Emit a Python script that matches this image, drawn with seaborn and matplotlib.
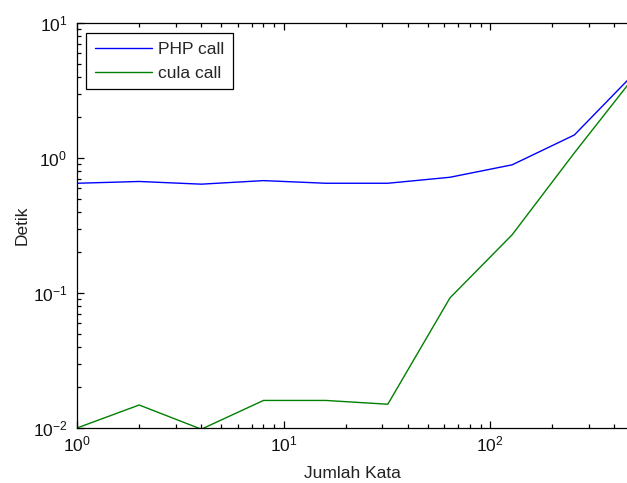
import numpy as np
import pandas as pd
import matplotlib
matplotlib.use("Agg")
import matplotlib.pyplot as plt
import seaborn as sns
from matplotlib.ticker import LogLocator, LogFormatterMathtext, NullFormatter

jumlah_kata = [1, 2, 4, 8, 16, 32, 64, 128, 256, 512]
php_call = [0.65, 0.67, 0.64, 0.68, 0.65, 0.65, 0.72, 0.89, 1.48, 4.4]
cula_call = [0.010, 0.0148, 0.0098, 0.016, 0.016, 0.015, 0.092, 0.27, 1.09, 4.2]
series_names = ["PHP call", "cula call"]

df = pd.DataFrame({
    "x": jumlah_kata * 2,
    "y": php_call + cula_call,
    "series": [series_names[0]] * len(jumlah_kata) + [series_names[1]] * len(jumlah_kata),
})

sns.set_style("white")
plt.rcParams["font.family"] = ["Liberation Sans", "DejaVu Sans"]
plt.rcParams["mathtext.fontset"] = "custom"
plt.rcParams["mathtext.rm"] = "Liberation Sans"
plt.rcParams["mathtext.it"] = "Liberation Sans"

W, H = 627, 483
left, right, top, bottom = 77, 627, 23, 428
fig = plt.figure(figsize=(W / 100, H / 100), dpi=100)
ax = fig.add_axes([left / W, (H - bottom) / H, (right - left) / W, (bottom - top) / H])

sns.lineplot(data=df, x="x", y="y", hue="series", palette=["#0000ff", "#008000"],
             linewidth=1.0, ax=ax, legend=True)

ax.set_xscale("log")
ax.set_yscale("log")
decade_px = 206.5
ax.set_xlim(1, 10 ** ((right - left) / decade_px))
ax.set_ylim(1e-2, 1e1)

for s in ["left", "bottom", "top"]:
    ax.spines[s].set_visible(True)
    ax.spines[s].set_color("black")
    ax.spines[s].set_linewidth(0.9)
ax.spines["right"].set_visible(False)

ax.xaxis.set_major_locator(LogLocator(base=10, numticks=10))
ax.yaxis.set_major_locator(LogLocator(base=10, numticks=10))
ax.xaxis.set_minor_locator(LogLocator(base=10, subs=np.arange(2, 10), numticks=20))
ax.yaxis.set_minor_locator(LogLocator(base=10, subs=np.arange(2, 10), numticks=20))
ax.xaxis.set_major_formatter(LogFormatterMathtext())
ax.yaxis.set_major_formatter(LogFormatterMathtext())
ax.xaxis.set_minor_formatter(NullFormatter())
ax.yaxis.set_minor_formatter(NullFormatter())
ax.tick_params(which="both", direction="in", top=True, left=True, bottom=True, right=False,
               colors="black", labelsize=12.5, labelcolor="#111111")
ax.tick_params(which="major", length=5, width=0.9)
ax.tick_params(which="minor", length=3, width=0.9)
ax.tick_params(axis="y", which="major", pad=7)
ax.tick_params(axis="x", which="major", pad=5)

ax.set_xlabel("Jumlah Kata", fontsize=12.5, color="#222222")
ax.set_ylabel("Detik", fontsize=12.5, color="#222222")
ax.xaxis.labelpad = 8
ax.yaxis.labelpad = 2

leg = ax.legend(loc="upper left", bbox_to_anchor=(9 / 550, 1 - 10 / 405), fancybox=False,
                edgecolor="black", framealpha=1, fontsize=12.5, borderaxespad=0,
                handlelength=3.3, handletextpad=0.35, labelspacing=0.5,
                borderpad=0.5)
leg.get_frame().set_linewidth(0.9)

fig.savefig("out.png", dpi=100, facecolor="white")
